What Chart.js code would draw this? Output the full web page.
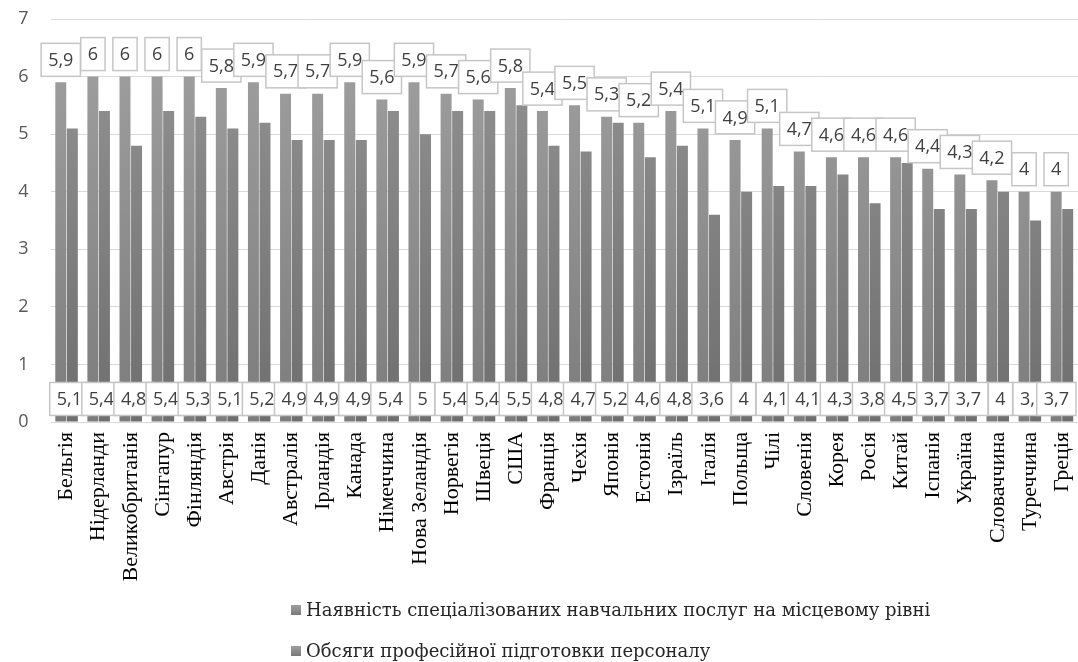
<!DOCTYPE html>
<html>
<head>
<meta charset="utf-8">
<script src="https://cdn.jsdelivr.net/npm/chart.js@4"></script>
<style>
  body { margin: 0; background: #fff; }
  #wrap { position: relative; width: 1078px; height: 662px; overflow: hidden; }
  #legend { position: absolute; left: 291px; top: 589px; font: 18px "DejaVu Serif", serif; color: #262626; }
  #legend div { height: 41px; display: flex; align-items: center; white-space: nowrap; }
  #legend span.sw { display: inline-block; width: 10px; height: 10px; margin-right: 5px;
    background: linear-gradient(#a0a0a0, #7a7a7a); }
</style>
</head>
<body>
<div id="wrap">
  <canvas id="chart" width="1078" height="662"></canvas>
  <div id="legend"></div>
</div>
<script>
const categories = ['Бельгія', 'Нідерланди', 'Великобританія', 'Сінгапур', 'Фінляндія', 'Австрія', 'Данія',
  'Австралія', 'Ірландія', 'Канада', 'Німеччина', 'Нова Зеландія', 'Норвегія', 'Швеція', 'США', 'Франція',
  'Чехія', 'Японія', 'Естонія', 'Ізраїль', 'Італія', 'Польща', 'Чілі', 'Словенія', 'Корея', 'Росія', 'Китай',
  'Іспанія', 'Україна', 'Словаччина', 'Туреччина', 'Греція'];

const seriesNames = ['Наявність спеціалізованих навчальних послуг на місцевому рівні',
  'Обсяги професійної підготовки персоналу'];

const services = [5.9, 6, 6, 6, 6, 5.8, 5.9, 5.7, 5.7, 5.9, 5.6, 5.9, 5.7, 5.6, 5.8, 5.4,
  5.5, 5.3, 5.2, 5.4, 5.1, 4.9, 5.1, 4.7, 4.6, 4.6, 4.6, 4.4, 4.3, 4.2, 4, 4];

const training = [5.1, 5.4, 4.8, 5.4, 5.3, 5.1, 5.2, 4.9, 4.9, 4.9, 5.4, 5, 5.4, 5.4, 5.5, 4.8,
  4.7, 5.2, 4.6, 4.8, 3.6, 4, 4.1, 4.1, 4.3, 3.8, 4.5, 3.7, 3.7, 4, 3.5, 3.7];

const yTicks = [0, 1, 2, 3, 4, 5, 6, 7];

const fmt = v => String(v).replace('.', ',');

function barFill(top, bottom) {
  return (c) => {
    const area = c.chart.chartArea;
    if (!area) return bottom;
    const g = c.chart.ctx.createLinearGradient(0, area.top, 0, area.bottom);
    g.addColorStop(0, top);
    g.addColorStop(1, bottom);
    return g;
  };
}

// boxed value labels, like the Excel "callout" style
function drawBox(ctx, txt, cx, cy, maxRight) {
  const w = ctx.measureText(txt).width + 14;
  const h = 33;
  let bx = cx - w / 2;
  if (bx + w > maxRight) bx = maxRight - w;
  const by = cy - h / 2;
  ctx.fillStyle = '#fff';
  ctx.fillRect(bx, by, w, h);
  ctx.strokeStyle = '#c6c6c6';
  ctx.lineWidth = 1.5;
  ctx.strokeRect(bx, by, w, h);
  ctx.fillStyle = '#404040';
  ctx.fillText(txt, bx + w / 2, cy + 1);
}

const boxLabels = {
  id: 'boxLabels',
  afterDatasetsDraw(chart) {
    const ctx = chart.ctx;
    const ys = chart.scales.y;
    const right = chart.width - 2;
    ctx.save();
    ctx.font = '18px "Open Sans"';
    ctx.textAlign = 'center';
    ctx.textBaseline = 'middle';

    chart.getDatasetMeta(0).data.forEach((bar, i) => {
      drawBox(ctx, fmt(services[i]), bar.x, bar.y - 6 - 16.5, right);
    });

    const base = ys.getPixelForValue(0.4);
    chart.getDatasetMeta(1).data.forEach((bar, i) => {
      drawBox(ctx, fmt(training[i]), bar.x - 3, base, right);
    });
    ctx.restore();
  }
};

new Chart(document.getElementById('chart'), {
  type: 'bar',
  data: {
    labels: categories,
    datasets: [
      { label: seriesNames[0], data: services, backgroundColor: barFill('#a2a2a2', '#7c7c7c') },
      { label: seriesNames[1], data: training, backgroundColor: barFill('#959595', '#6e6e6e') }
    ]
  },
  options: {
    responsive: false,
    animation: false,
    devicePixelRatio: 1,
    datasets: { bar: { categoryPercentage: 0.72, barPercentage: 0.95 } },
    layout: { padding: { top: 19, right: 0, left: 0, bottom: 0 } },
    plugins: { legend: { display: false }, tooltip: { enabled: false } },
    scales: {
      x: {
        grid: { display: false, drawTicks: false },
        border: { display: false },
        ticks: {
          autoSkip: false, minRotation: 90, maxRotation: 90, padding: 10,
          color: '#000', font: { family: '"Liberation Serif"', size: 22 }
        },
        afterFit: s => { s.height = 240; s.paddingLeft = 0; s.paddingRight = 0; }
      },
      y: {
        min: 0, max: 7,
        afterBuildTicks: s => { s.ticks = yTicks.map(v => ({ value: v })); },
        grid: { color: '#d9d9d9', drawTicks: false },
        border: { display: false },
        ticks: { padding: 22, color: '#595959', font: { family: '"Open Sans"', size: 18 } },
        afterFit: s => { s.width = 50.5; s.paddingTop = 0; s.paddingBottom = 0; }
      }
    }
  },
  plugins: [boxLabels]
});

const legend = document.getElementById('legend');
seriesNames.forEach(n => {
  const row = document.createElement('div');
  row.innerHTML = '<span class="sw"></span>' + n;
  legend.appendChild(row);
});
</script>
</body>
</html>
